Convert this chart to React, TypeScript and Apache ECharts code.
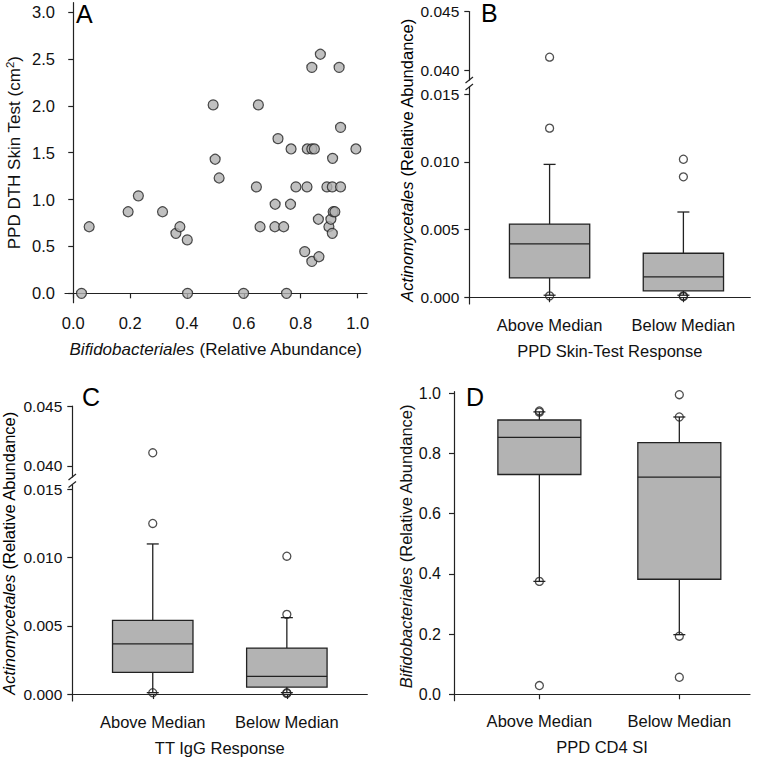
import React, { useEffect, useRef } from "react";
import * as echarts from "echarts";

// ---------- Data ----------
// Panel A: Bifidobacteriales relative abundance vs PPD DTH skin test (cm2)
const scatterX = [
  0.029, 0.056, 0.193, 0.229, 0.314, 0.361, 0.375, 0.401, 0.402, 0.492,
  0.499, 0.513, 0.599, 0.644, 0.651, 0.657, 0.71, 0.709, 0.72, 0.74,
  0.75, 0.764, 0.766, 0.783, 0.814, 0.823, 0.822, 0.839, 0.839, 0.839,
  0.848, 0.862, 0.864, 0.869, 0.892, 0.899, 0.906, 0.911, 0.911, 0.912,
  0.914, 0.92, 0.935, 0.94, 0.94, 0.994,
];
const scatterY = [
  0.0, 0.71, 0.87, 1.04, 0.87, 0.64, 0.71, 0.57, 0.0, 2.01,
  1.43, 1.23, 0.0, 1.135, 2.01, 0.71, 0.95, 0.71, 1.65, 0.71,
  0.0, 0.95, 1.54, 1.135, 0.445, 1.54, 1.135, 2.41, 0.34, 1.54,
  1.54, 0.79, 0.39, 2.55, 1.135, 0.71, 0.79, 0.64, 1.135, 1.44,
  0.87, 0.87, 2.41, 1.77, 1.135, 1.54,
];
const yTicksA = [0, 0.5, 1.0, 1.5, 2.0, 2.5, 3.0];
const xTicksA = [0, 0.2, 0.4, 0.6, 0.8, 1.0];

const groups = ["Above Median", "Below Median"];

// box stats: [lowWhisker, Q1, median, Q3, highWhisker]
const boxB = [
  [0.00015, 0.00143, 0.00394, 0.00541, 0.00982],
  [0.00015, 0.00047, 0.0015, 0.00325, 0.0063],
];
const outB1 = [0.0411, 0.0125, 0.0001];
const outB2 = [0.0102, 0.0089, 0.00005, 0.0001];

const boxC = [
  [0.0001, 0.00159, 0.00367, 0.0054, 0.011],
  [0.0001, 0.00051, 0.0013, 0.00337, 0.0056],
];
const outC1 = [0.0411, 0.0125, 0.0001];
const outC2 = [0.0101, 0.00584, 0.0001, 0.00005];

const boxD = [
  [0.375, 0.73, 0.853, 0.911, 0.938],
  [0.198, 0.382, 0.721, 0.836, 0.921],
];
const outD1 = [0.941, 0.937, 0.375, 0.029];
const outD2 = [0.995, 0.921, 0.193, 0.0565];

const lowTicks = [0, 0.005, 0.01, 0.015];
const highTicks = [0.04, 0.045];
const dTicks = [0, 0.2, 0.4, 0.6, 0.8, 1.0];

// ---------- Styles ----------
const FONT = "Liberation Sans, Arial, sans-serif";
const INK = "#222";
const FILL = "#b3b3b3";
const FS = 16;
const FT = 16.5;

function axisBase() {
  return {
    axisLine: { show: true, lineStyle: { color: INK, width: 1.2 } },
    axisTick: { show: true, length: 5, inside: false, lineStyle: { color: INK, width: 1.2 } },
    splitLine: { show: false },
    axisLabel: { color: "#111", fontSize: FS, fontFamily: FONT },
    nameTextStyle: { color: "#111", fontSize: FT, fontFamily: FONT },
  };
}

function valueYAxis(gridIndex: number, min: number, max: number, ticks: number[], digits: number, extra: any = {}, fs = FS) {
  const b = axisBase();
  return {
    type: "value",
    gridIndex,
    min,
    max,
    ...b,
    axisTick: { ...b.axisTick, customValues: ticks },
    axisLabel: {
      ...b.axisLabel,
      fontSize: fs,
      margin: 10,
      customValues: ticks,
      formatter: (v: number) => v.toFixed(digits),
    },
    ...extra,
  };
}

function groupXAxis(gridIndex: number, min: number, max: number, show: boolean, name = "") {
  const b = axisBase();
  return {
    type: "value",
    gridIndex,
    min,
    max,
    show,
    ...b,
    name,
    nameLocation: "middle",
    nameGap: 38,
    axisTick: { ...b.axisTick, customValues: [1, 2] },
    axisLabel: {
      ...b.axisLabel,
      fontSize: FT,
      margin: 12,
      customValues: [1, 2],
      formatter: (v: number) => groups[Math.round(v) - 1] || "",
    },
  };
}

function boxSeries(xIdx: number, yIdx: number, stats: number[][], boxW: number) {
  return {
    type: "custom",
    xAxisIndex: xIdx,
    yAxisIndex: yIdx,
    clip: false,
    encode: { x: 0, y: [1, 2, 3, 4, 5] },
    data: stats.map((s, i) => [i + 1, ...s]),
    renderItem: (params: any, api: any) => {
      const x = api.value(0);
      const lo = api.coord([x, api.value(1)]);
      const q1 = api.coord([x, api.value(2)]);
      const med = api.coord([x, api.value(3)]);
      const q3 = api.coord([x, api.value(4)]);
      const hi = api.coord([x, api.value(5)]);
      const bw = api.size([boxW, 0])[0];
      const cx = lo[0];
      const ls = { stroke: INK, lineWidth: 1.3, fill: null };
      return {
        type: "group",
        children: [
          { type: "line", shape: { x1: cx, y1: hi[1], x2: cx, y2: q3[1] }, style: ls },
          { type: "line", shape: { x1: cx, y1: q1[1], x2: cx, y2: lo[1] }, style: ls },
          { type: "line", shape: { x1: cx - 6, y1: hi[1], x2: cx + 6, y2: hi[1] }, style: ls },
          { type: "line", shape: { x1: cx - 6, y1: lo[1], x2: cx + 6, y2: lo[1] }, style: ls },
          {
            type: "rect",
            shape: { x: cx - bw / 2, y: q3[1], width: bw, height: q1[1] - q3[1] },
            style: { fill: FILL, stroke: INK, lineWidth: 1.3 },
          },
          { type: "line", shape: { x1: cx - bw / 2, y1: med[1], x2: cx + bw / 2, y2: med[1] }, style: ls },
        ],
      };
    },
  };
}

function outlierSeries(xIdx: number, yIdx: number, a: number[], b: number[], lo: number, hi: number) {
  const data: number[][] = [];
  a.forEach((v) => { if (v >= lo && v <= hi) data.push([1, v]); });
  b.forEach((v) => { if (v >= lo && v <= hi) data.push([2, v]); });
  return {
    type: "scatter",
    xAxisIndex: xIdx,
    yAxisIndex: yIdx,
    symbol: "circle",
    symbolSize: 8,
    clip: false,
    z: 5,
    itemStyle: { color: "rgba(255,255,255,0)", borderColor: INK, borderWidth: 1.3 },
    data,
  };
}

export default function App() {
  const ref = useRef<HTMLDivElement>(null);

  useEffect(() => {
    if (!ref.current) return;
    const chart = echarts.init(ref.current, null, { renderer: "svg" });

    const italicRich = {
      i: { fontStyle: "italic", fontSize: FT, fontFamily: FONT, color: "#111" },
      n: { fontSize: FT, fontFamily: FONT, color: "#111" },
    };
    const richA = {
      i: { fontStyle: "italic", fontSize: 17, fontFamily: FONT, color: "#111" },
      n: { fontSize: 17, fontFamily: FONT, color: "#111" },
      s: { fontSize: 11.5, fontFamily: FONT, color: "#111", padding: [0, 0, 9, 0] },
    };

    // grids: 0 A, 1 B-upper, 2 B-lower, 3 C-upper, 4 C-lower, 5 D
    const grid = [
      { left: 65, top: 2.7, width: 302, height: 300 },
      { left: 469.3, top: 11.5, width: 281, height: 68.5 },
      { left: 469.3, top: 87, width: 281, height: 217 },
      { left: 72.3, top: 406, width: 295, height: 71 },
      { left: 72.3, top: 485, width: 295, height: 216 },
      { left: 454, top: 391.7, width: 296, height: 309 },
    ];

    const b = axisBase();
    const xAxis: any[] = [
      {
        type: "value",
        gridIndex: 0,
        min: -0.029,
        max: 1.033,
        ...b,
        name: "{i|Bifidobacteriales} {n|(Relative Abundance)}",
        nameLocation: "middle",
        nameGap: 38,
        nameTextStyle: { ...b.nameTextStyle, fontSize: 17, rich: richA },
        axisTick: { ...b.axisTick, customValues: xTicksA },
        axisLabel: { ...b.axisLabel, fontSize: 16.5, margin: 12, customValues: xTicksA, formatter: (v: number) => v.toFixed(1) },
      },
      groupXAxis(1, 0.4, 2.5, false),
      groupXAxis(2, 0.4, 2.5, true, "PPD Skin-Test Response"),
      groupXAxis(3, 0.4, 2.6, false),
      groupXAxis(4, 0.4, 2.6, true, "TT IgG Response"),
      groupXAxis(5, 0.39, 2.505, true, "PPD CD4 SI"),
    ];

    const yAxis: any[] = [
      valueYAxis(0, -0.1, 3.1, yTicksA, 1, {
        name: "{n|PPD DTH Skin Test (cm}{s|2}{n|)}",
        nameLocation: "middle",
        nameGap: 40,
        nameTextStyle: { ...b.nameTextStyle, fontSize: 17, rich: richA },
      }, 16.5),
      valueYAxis(1, 0.03915, 0.045, highTicks, 3, {}, 15.5),
      valueYAxis(2, -0.0005, 0.01554, lowTicks, 3, {}, 15.5),
      valueYAxis(3, 0.03908, 0.045, highTicks, 3, {}, 15.5),
      valueYAxis(4, -0.00051, 0.01532, lowTicks, 3, {}, 15.5),
      valueYAxis(5, -0.0213, 1.005, dTicks, 1, {
        name: "{i|Bifidobacteriales} {n|(Relative Abundance)}",
        nameLocation: "middle",
        nameGap: 39,
        nameTextStyle: { ...b.nameTextStyle, rich: italicRich },
      }),
    ];
    yAxis[5].axisLabel.margin = 13;

    const series: any[] = [
      {
        type: "scatter",
        xAxisIndex: 0,
        yAxisIndex: 0,
        symbol: "circle",
        symbolSize: 10,
        itemStyle: { color: "#b0b0b0", borderColor: INK, borderWidth: 1.2 },
        data: scatterX.map((x, i) => [x, scatterY[i]]),
      },
      boxSeries(2, 2, boxB, 0.6),
      outlierSeries(1, 1, outB1, outB2, 0.03, 0.05),
      outlierSeries(2, 2, outB1, outB2, -0.01, 0.02),
      boxSeries(4, 4, boxC, 0.6),
      outlierSeries(3, 3, outC1, outC2, 0.03, 0.05),
      outlierSeries(4, 4, outC1, outC2, -0.01, 0.02),
      boxSeries(5, 5, boxD, 0.593),
      outlierSeries(5, 5, outD1, outD2, -0.1, 1.1),
    ];

    const letterStyle = { fontSize: 25, fontFamily: FONT, fill: "#000" };
    const breakLine = (x1: number, y1: number, x2: number, y2: number) => ({
      type: "line",
      shape: { x1, y1, x2, y2 },
      style: { stroke: INK, lineWidth: 1.2 },
    });
    const rotTitle = (x: number, y: number) => ({
      type: "text",
      x,
      y,
      rotation: Math.PI / 2,
      style: {
        text: "{i|Actinomycetales} {n|(Relative Abundance)}",
        rich: italicRich,
        align: "center",
        verticalAlign: "middle",
        fontSize: FT,
        fontFamily: FONT,
      },
    });

    const graphic: any[] = [
      { type: "text", x: 76, y: 1, style: { ...letterStyle, text: "A" } },
      { type: "text", x: 481, y: 0, style: { ...letterStyle, text: "B" } },
      { type: "text", x: 82, y: 384, style: { ...letterStyle, text: "C" } },
      { type: "text", x: 466, y: 384, style: { ...letterStyle, text: "D" } },
      rotTitle(406.5, 160),
      rotTitle(9, 553),
      breakLine(465.5, 83, 473, 77),
      breakLine(465.5, 90, 473, 84),
      breakLine(68.5, 480, 76, 474),
      breakLine(68.5, 487.5, 76, 481.5),
    ];

    chart.setOption({
      animation: false,
      backgroundColor: "#fff",
      textStyle: { fontFamily: FONT },
      grid,
      xAxis,
      yAxis,
      series,
      graphic,
    });

    return () => chart.dispose();
  }, []);

  return (
    <div
      ref={ref}
      style={{ position: "fixed", left: 0, top: 0, width: 766, height: 759, background: "#fff" }}
    />
  );
}
